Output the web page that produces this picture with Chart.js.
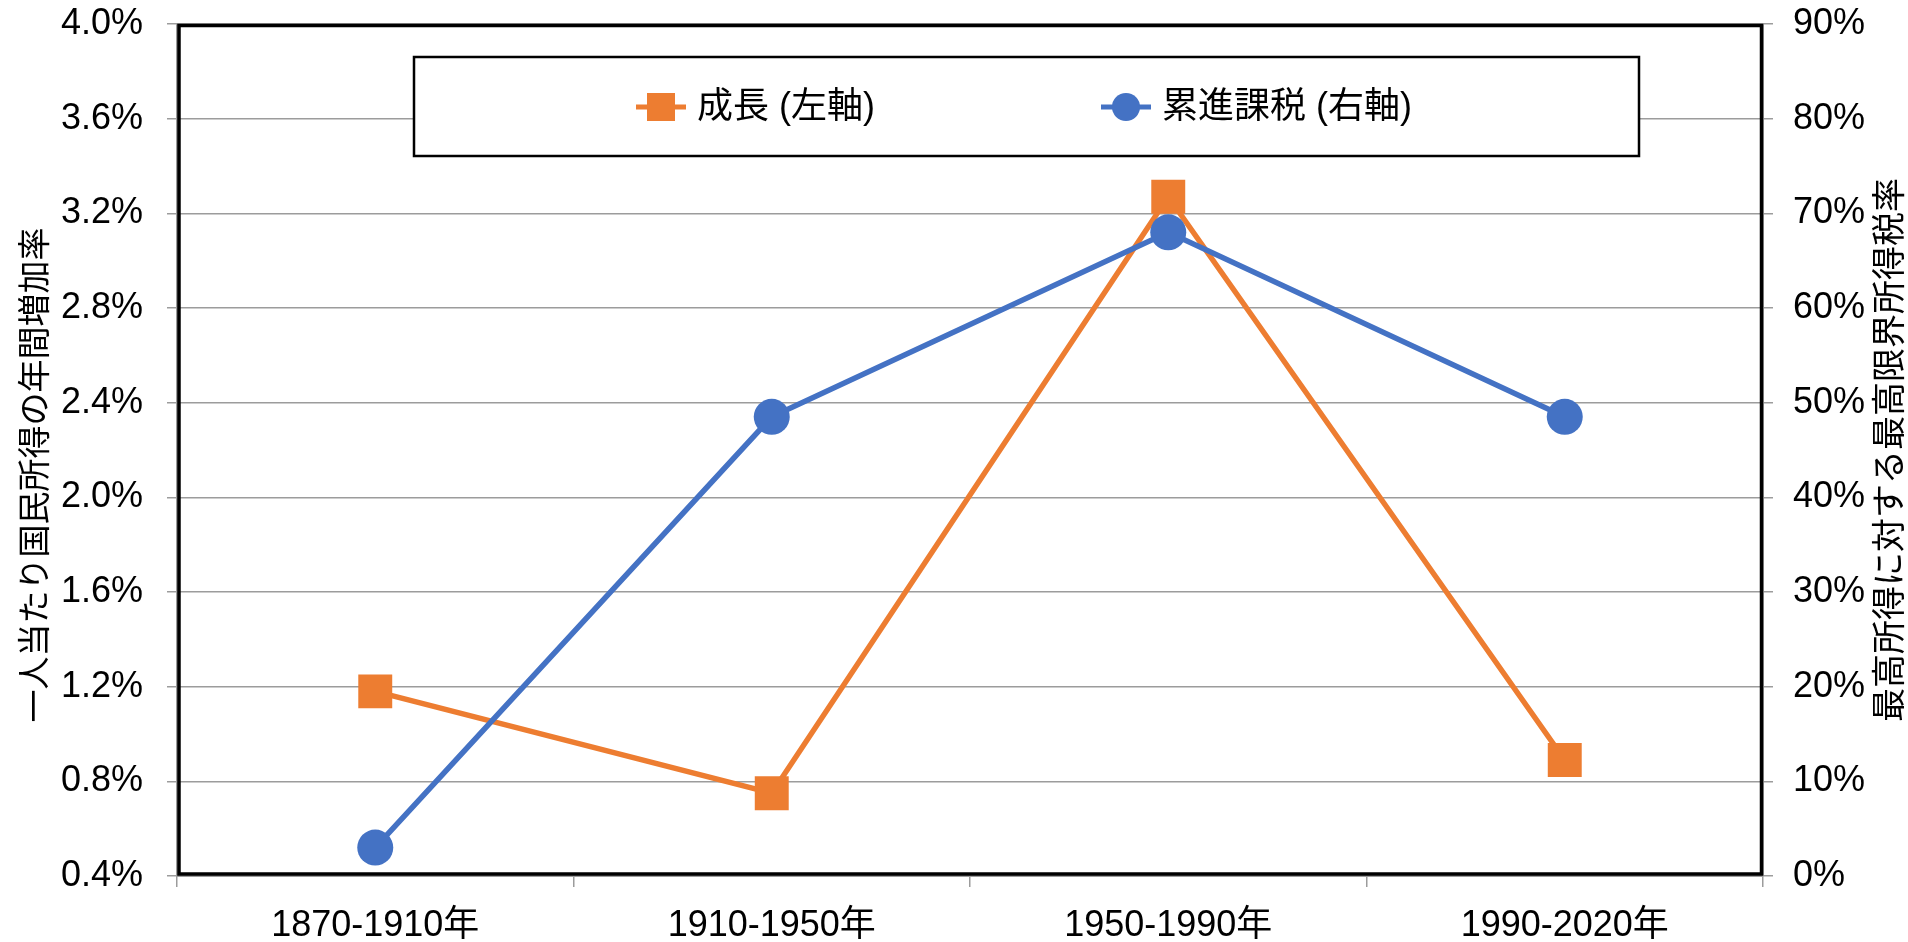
<!DOCTYPE html>
<html>
<head>
<meta charset="utf-8">
<script src="https://cdn.jsdelivr.net/npm/chart.js@4"></script>
<style>
    body { margin: 0; background: #fff; }
    canvas { display: block; }
</style>
</head>
<body>
<canvas id="grafico" width="1908" height="942"></canvas>
<script>
const periodos = ['1870-1910年', '1910-1950年', '1950-1990年', '1990-2020年']
const crecimiento = [1.18, 0.75, 3.27, 0.89]
const impuestoMax = [3, 48.5, 68, 48.5]
const tituloIzq = '一人当たり国民所得の年間増加率'
const tituloDer = '最高所得に対する最高限界所得税率'

const fuente = '"Liberation Sans", "Noto Sans CJK JP", sans-serif'
const gris = '#9c9c9c'

// borde negro, leyenda dentro del grafico y titulos de los ejes
const extras = {
    id: 'extras',
    beforeDatasetsDraw(chart) {
        let ctx = chart.ctx
        let a = chart.chartArea
        ctx.save()
        ctx.strokeStyle = '#000'
        ctx.lineWidth = 3.5
        ctx.strokeRect(a.left + 2, a.top + 1.5, a.right - a.left - 3.5, a.bottom - a.top - 3.5)
        ctx.restore()
    },
    afterDraw(chart) {
        let ctx = chart.ctx
        ctx.save()
        // leyenda
        ctx.fillStyle = '#fff'
        ctx.fillRect(414, 57, 1225, 99)
        ctx.strokeStyle = '#000'
        ctx.lineWidth = 2.5
        ctx.strokeRect(414, 57, 1225, 99)
        let items = [
            { ds: chart.data.datasets[0], x: 636 },
            { ds: chart.data.datasets[1], x: 1101 },
        ]
        let yl = 107
        items.forEach(it => {
            ctx.strokeStyle = it.ds.borderColor
            ctx.lineWidth = 5
            ctx.beginPath()
            ctx.moveTo(it.x, yl)
            ctx.lineTo(it.x + 50, yl)
            ctx.stroke()
            ctx.fillStyle = it.ds.borderColor
            if (it.ds.pointStyle === 'rect') {
                ctx.fillRect(it.x + 25 - 14, yl - 14, 28, 28)
            } else {
                ctx.beginPath()
                ctx.arc(it.x + 25, yl, 14, 0, Math.PI * 2)
                ctx.fill()
            }
            ctx.fillStyle = '#000'
            ctx.font = '36px ' + fuente
            ctx.textAlign = 'left'
            ctx.textBaseline = 'middle'
            ctx.fillText(it.ds.label, it.x + 61, yl + 1)
        })
        // titulos de ejes
        ctx.font = '33px ' + fuente
        ctx.fillStyle = '#000'
        ctx.textAlign = 'center'
        ctx.textBaseline = 'middle'
        ctx.translate(37, 475)
        ctx.rotate(-Math.PI / 2)
        ctx.fillText(tituloIzq, 0, 0)
        ctx.restore()
        ctx.save()
        ctx.font = '34px ' + fuente
        ctx.fillStyle = '#000'
        ctx.textAlign = 'center'
        ctx.textBaseline = 'middle'
        ctx.translate(1892, 450)
        ctx.rotate(-Math.PI / 2)
        ctx.fillText(tituloDer, 0, 0)
        ctx.restore()
    }
}

function sinRelleno(scale) {
    scale.paddingTop = 0
    scale.paddingBottom = 0
    scale.paddingLeft = 0
    scale.paddingRight = 0
}

let grafico = new Chart(document.getElementById('grafico'), {
    type: 'line',
    plugins: [extras],
    data: {
        labels: periodos,
        datasets: [{
            label: '成長 (左軸)',
            data: crecimiento,
            yAxisID: 'y',
            borderColor: '#ED7D31',
            backgroundColor: '#ED7D31',
            borderWidth: 5.5,
            pointStyle: 'rect',
            pointRadius: 24,
            pointBorderWidth: 0,
            tension: 0,
            order: 2,
        },
        {
            label: '累進課税 (右軸)',
            data: impuestoMax,
            yAxisID: 'y1',
            borderColor: '#4472C4',
            backgroundColor: '#4472C4',
            borderWidth: 5.5,
            pointStyle: 'circle',
            pointRadius: 18,
            pointBorderWidth: 0,
            tension: 0,
            order: 1,
        }]
    },
    options: {
        responsive: false,
        animation: false,
        layout: { padding: { top: 23, left: 0, right: 0, bottom: 0 } },
        plugins: {
            legend: { display: false },
            tooltip: { enabled: false },
        },
        scales: {
            x: {
                offset: true,
                grid: {
                    offset: true,
                    drawOnChartArea: false,
                    tickLength: 11,
                    color: gris,
                    lineWidth: 1.5,
                },
                border: { color: gris, width: 2 },
                ticks: {
                    color: '#000',
                    font: { family: fuente, size: 36 },
                    padding: 17,
                    maxRotation: 0,
                },
                afterFit: (scale) => { sinRelleno(scale); scale.height = 66 },
            },
            y: {
                position: 'left',
                min: 0.4,
                max: 4.0,
                grid: {
                    color: gris,
                    lineWidth: 1.5,
                    tickLength: 10,
                },
                border: { color: gris, width: 2 },
                ticks: {
                    stepSize: 0.4,
                    color: '#000',
                    font: { family: fuente, size: 36 },
                    padding: 24,
                    callback: (v) => v.toFixed(1) + '%',
                },
                afterFit: (scale) => { sinRelleno(scale); scale.width = 177 },
            },
            y1: {
                position: 'right',
                min: 0,
                max: 90,
                grid: {
                    drawOnChartArea: false,
                    color: gris,
                    lineWidth: 1.5,
                    tickLength: 10,
                },
                border: { color: gris, width: 2 },
                ticks: {
                    stepSize: 10,
                    color: '#000',
                    font: { family: fuente, size: 36 },
                    padding: 20,
                    callback: (v) => v + '%',
                },
                afterFit: (scale) => { sinRelleno(scale); scale.width = 145 },
            },
        },
    }
})
</script>
</body>
</html>
